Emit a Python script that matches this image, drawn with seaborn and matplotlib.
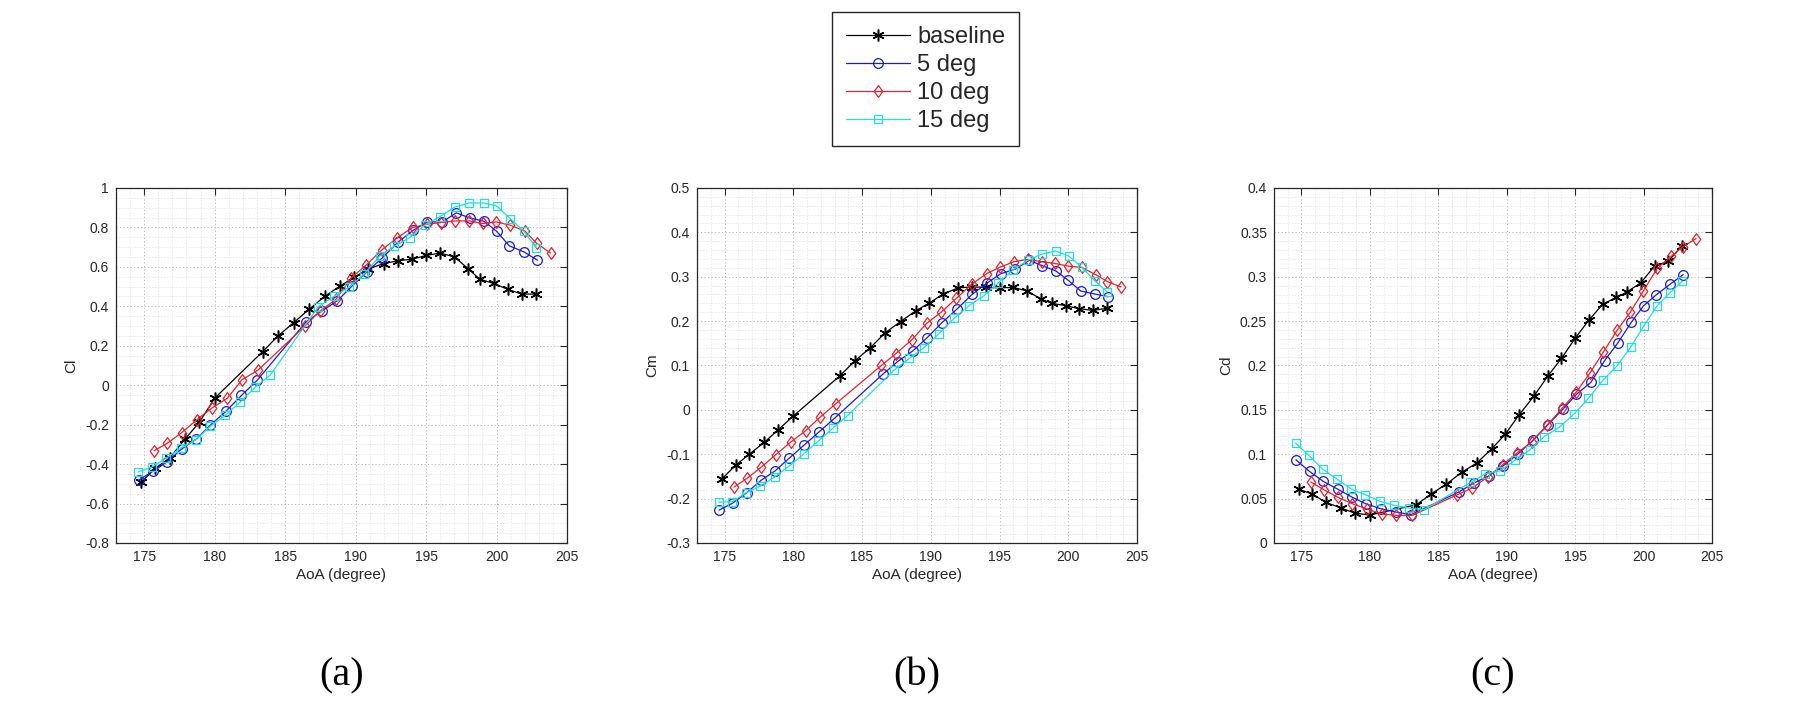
import numpy as np
import pandas as pd
import matplotlib
matplotlib.use("Agg")
import matplotlib.pyplot as plt
from matplotlib.ticker import MultipleLocator, FuncFormatter
from matplotlib.path import Path
import seaborn as sns

# ---------------- data ----------------
series_names = ["baseline", "5 deg", "10 deg", "15 deg"]

base_x = [174.8, 175.8, 176.8, 177.9, 178.9, 180.0, 183.4, 184.5, 185.6, 186.7, 187.8, 188.9, 189.9,
          190.9, 192.0, 193.0, 194.0, 195.0, 196.0, 197.0, 198.0, 198.8, 199.8, 200.8, 201.8, 202.8]
base_cl = [-0.491, -0.42, -0.37, -0.273, -0.189, -0.066, 0.170, 0.25, 0.317, 0.385, 0.45, 0.503, 0.547,
           0.59, 0.617, 0.631, 0.639, 0.658, 0.670, 0.651, 0.59, 0.538, 0.516, 0.486, 0.462, 0.462]
base_cm = [-0.156, -0.125, -0.100, -0.073, -0.045, -0.014, 0.077, 0.111, 0.140, 0.174, 0.199, 0.223, 0.241,
           0.261, 0.275, 0.277, 0.276, 0.275, 0.276, 0.268, 0.250, 0.240, 0.235, 0.228, 0.224, 0.229]
base_cd = [0.0607, 0.0551, 0.0457, 0.0394, 0.0337, 0.0315, 0.0431, 0.0555, 0.0664, 0.0795, 0.090, 0.106, 0.1226,
           0.1443, 0.1657, 0.188, 0.208, 0.2306, 0.251, 0.2688, 0.2767, 0.283, 0.2932, 0.312, 0.3175, 0.3344]

deg5_x = [174.6, 175.6, 176.6, 177.65, 178.7, 179.7, 180.8, 181.9, 183.0, 186.5, 187.6, 188.7, 189.75,
          190.8, 191.9, 193.0, 194.1, 195.1, 196.15, 197.15, 198.1, 199.1, 200.0, 200.9, 201.95, 202.9]
deg5_cl = [-0.482, -0.437, -0.39, -0.324, -0.273, -0.202, -0.132, -0.052, 0.024, 0.322, 0.376, 0.428, 0.503,
           0.575, 0.646, 0.725, 0.786, 0.828, 0.828, 0.874, 0.848, 0.832, 0.781, 0.707, 0.676, 0.634]
deg5_cm = [-0.226, -0.21, -0.187, -0.159, -0.137, -0.109, -0.079, -0.049, -0.019, 0.080, 0.109, 0.133, 0.163,
           0.196, 0.227, 0.26, 0.286, 0.307, 0.317, 0.337, 0.325, 0.313, 0.292, 0.268, 0.261, 0.255]
deg5_cd = [0.0937, 0.0806, 0.0694, 0.0607, 0.0517, 0.0442, 0.0386, 0.0349, 0.0319, 0.0574, 0.0675, 0.0757, 0.087,
           0.1, 0.1155, 0.133, 0.1507, 0.1676, 0.181, 0.2054, 0.225, 0.2486, 0.2673, 0.2793, 0.2917, 0.3025]

deg10_x = [175.7, 176.65, 177.67, 178.73, 179.8, 180.9, 181.93, 183.1, 186.4, 187.47, 188.6, 189.7, 190.75,
           191.85, 192.97, 194.06, 195.07, 196.07, 197.05, 198.08, 199.02, 199.98, 200.99, 202.03, 202.85, 203.83]
deg10_cl = [-0.332, -0.294, -0.24, -0.175, -0.116, -0.066, 0.027, 0.078, 0.30, 0.376, 0.435, 0.545, 0.609,
            0.685, 0.749, 0.80, 0.816, 0.825, 0.833, 0.833, 0.82, 0.828, 0.811, 0.781, 0.719, 0.671]
deg10_cm = [-0.174, -0.154, -0.129, -0.101, -0.073, -0.047, -0.017, 0.014, 0.100, 0.127, 0.157, 0.195, 0.22,
            0.251, 0.283, 0.307, 0.322, 0.334, 0.339, 0.334, 0.33, 0.324, 0.321, 0.304, 0.289, 0.277]
deg10_cd = [0.0686, 0.06, 0.0514, 0.0442, 0.0382, 0.0326, 0.0311, 0.0311, 0.0544, 0.0619, 0.0742, 0.0881, 0.1012,
            0.1143, 0.133, 0.1518, 0.1698, 0.1912, 0.2148, 0.24, 0.2598, 0.2838, 0.3093, 0.3231, 0.3336, 0.343]

deg15_x = [174.58, 175.55, 176.56, 177.6, 178.66, 179.68, 180.75, 181.8, 182.88, 183.95, 187.35, 188.45, 189.5,
           190.6, 191.7, 192.75, 193.85, 194.9, 195.97, 197.05, 198.08, 199.08, 200.03, 200.97, 201.93, 202.83]
deg15_cl = [-0.44, -0.415, -0.37, -0.319, -0.277, -0.209, -0.153, -0.086, -0.01, 0.052, 0.398, 0.45, 0.496,
            0.563, 0.655, 0.705, 0.749, 0.811, 0.854, 0.904, 0.924, 0.924, 0.908, 0.845, 0.781, 0.698]
deg15_cm = [-0.208, -0.207, -0.187, -0.172, -0.151, -0.127, -0.100, -0.071, -0.041, -0.013, 0.090, 0.116, 0.140,
            0.172, 0.206, 0.234, 0.257, 0.286, 0.315, 0.337, 0.351, 0.358, 0.347, 0.322, 0.291, 0.266]
deg15_cd = [0.1125, 0.0986, 0.0832, 0.072, 0.0607, 0.0544, 0.0469, 0.0424, 0.0394, 0.0375, 0.0682, 0.078, 0.0814,
            0.093, 0.105, 0.12, 0.1305, 0.145, 0.163, 0.1837, 0.1998, 0.2212, 0.2448, 0.2669, 0.2819, 0.295]

panel_ylabels = ["Cl", "Cm", "Cd"]
panel_tags = ["(a)", "(b)", "(c)"]
xlabel_text = "AoA (degree)"
x_ticks = [175, 180, 185, 190, 195, 200, 205]

# ---------------- style ----------------
sns.set_theme(style="white")
plt.rcParams["font.family"] = ["Liberation Sans", "DejaVu Sans"]
plt.rcParams["axes.unicode_minus"] = False

diamond = Path([(0, 1), (0.72, 0), (0, -1), (-0.72, 0), (0, 1)],
               [Path.MOVETO, Path.LINETO, Path.LINETO, Path.LINETO, Path.CLOSEPOLY])

colors = ["#000000", "#1a1ad6", "#e8202a", "#22dede"]
markers = [(6, 2, 0), "o", diamond, "s"]
msizes = [8.5, 7, 8.5, 5.5]

xs = [base_x, deg5_x, deg10_x, deg15_x]
ys = [[base_cl, deg5_cl, deg10_cl, deg15_cl],
      [base_cm, deg5_cm, deg10_cm, deg15_cm],
      [base_cd, deg5_cd, deg10_cd, deg15_cd]]

ylims = [(-0.8, 1.0), (-0.3, 0.5), (0.0, 0.4)]
ymajor = [0.2, 0.1, 0.05]
yminor = [0.05, 0.02, 0.01]

W, H = 1812, 713
fig = plt.figure(figsize=(W / 100, H / 100), dpi=100)
fig.patch.set_facecolor("white")

# axes boxes in pixels (left, right)
boxes = [(116, 567), (697, 1137), (1274, 1712)]
top_px, bot_px = 188, 543

axes = []
for i, (l, r) in enumerate(boxes):
    ax = fig.add_axes([l / W, 1 - bot_px / H, (r - l) / W, (bot_px - top_px) / H])
    axes.append(ax)
    for k in range(4):
        df = pd.DataFrame({"x": xs[k], "y": ys[i][k]})
        sns.lineplot(data=df, x="x", y="y", ax=ax, color=colors[k], lw=0.9,
                     marker=markers[k], markersize=msizes[k],
                     markerfacecolor="none", markeredgecolor=colors[k],
                     markeredgewidth=0.9 if k else 1.1,
                     label=series_names[k], legend=False)
    ax.set_xlim(173, 205)
    ax.set_ylim(*ylims[i])
    ax.set_xticks(x_ticks)
    ax.yaxis.set_major_locator(MultipleLocator(ymajor[i]))
    ax.xaxis.set_minor_locator(MultipleLocator(1))
    ax.yaxis.set_minor_locator(MultipleLocator(yminor[i]))
    ax.yaxis.set_major_formatter(FuncFormatter(lambda v, p: "%g" % round(v, 4)))
    ax.grid(True, which="major", ls=(0, (1.2, 2.4)), color="#b8b8b8", lw=0.7)
    ax.grid(True, which="minor", ls=(0, (1.0, 2.6)), color="#d4d4d4", lw=0.6)
    ax.set_axisbelow(True)
    ax.tick_params(which="major", direction="in", length=5, width=0.8, color="#262626",
                   top=True, right=True, labelsize=10, labelcolor="#262626", pad=5)
    ax.tick_params(which="minor", length=0)
    for s in ax.spines.values():
        s.set_color("#262626")
        s.set_linewidth(0.9)
    ax.set_xlabel(xlabel_text, fontsize=11, color="#262626", labelpad=3)
    ax.set_ylabel(panel_ylabels[i], fontsize=11, color="#262626", labelpad=5)
    cx = (l + r) / 2
    fig.text(cx / W, 1 - 676 / H, panel_tags[i], ha="center", va="center",
             fontsize=29, family=["Liberation Serif", "DejaVu Serif"], color="black")

handles, labels = axes[0].get_legend_handles_labels()
leg = fig.legend(handles, labels, loc="upper left", bbox_to_anchor=(832 / W, 1 - 12 / H),
                 bbox_transform=fig.transFigure, borderaxespad=0, frameon=True, fancybox=False,
                 handlelength=2.7, handletextpad=0.3, labelspacing=0.25, borderpad=0.6,
                 fontsize=17, edgecolor="#262626", framealpha=1)
leg.get_frame().set_linewidth(1.0)
for t in leg.get_texts():
    t.set_color("#262626")

fig.savefig("out.png", dpi=100, facecolor="white")
